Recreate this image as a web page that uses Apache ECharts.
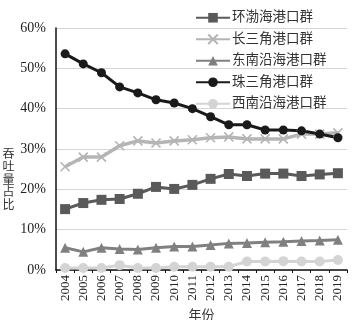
<!DOCTYPE html>
<html>
<head>
<meta charset="utf-8">
<script src="https://cdn.jsdelivr.net/npm/echarts@6/dist/echarts.min.js"></script>
<style>
  html, body { margin: 0; padding: 0; background: #fff; }
  #chart { width: 355px; height: 320px; }
</style>
</head>
<body>
<div id="chart"></div>
<script>
// 年份
var years = ['2004','2005','2006','2007','2008','2009','2010','2011','2012','2013','2014','2015','2016','2017','2018','2019'];
// 各港口群吞吐量占比(%)
var huanbohai = [15.1,16.6,17.4,17.6,18.9,20.6,20.1,21.1,22.6,23.8,23.3,23.9,23.9,23.3,23.7,24.0];
var changsanjiao = [25.6,28.0,28.0,30.8,32.0,31.5,32.0,32.3,32.8,33.0,32.5,32.5,32.5,33.7,33.7,34.0];
var dongnan = [5.5,4.5,5.5,5.2,5.1,5.5,5.8,5.8,6.2,6.6,6.7,6.9,7.0,7.2,7.3,7.5];
var zhusanjiao = [53.6,51.1,48.9,45.4,43.9,42.2,41.4,40.0,38.0,36.0,36.0,34.7,34.7,34.5,33.7,32.8];
var xinan = [0.5,0.5,0.5,1.2,0.5,0.5,0.8,0.8,0.8,0.8,2.1,2.1,2.2,2.1,2.1,2.5];
var seriesNames = ['环渤海港口群','长三角港口群','东南沿海港口群','珠三角港口群','西南沿海港口群'];

var serif = '"Liberation Serif", "Noto Sans CJK SC", serif';
var chart = echarts.init(document.getElementById('chart'));

function line(name, data, color, symbol, size, width) {
  return {
    name: name,
    type: 'line',
    data: data,
    symbol: symbol,
    symbolSize: size,
    showSymbol: true,
    lineStyle: { color: color, width: width },
    itemStyle: { color: color, borderColor: color, borderWidth: symbol.indexOf('path') === 0 ? 1.6 : 0 },
    z: 3
  };
}

var option = {
  animation: false,
  textStyle: { fontFamily: serif },
  grid: { left: 56, right: 8, top: 28, bottom: 50, containLabel: false, outerBoundsMode: 'none' },
  legend: {
    orient: 'vertical',
    left: 190,
    top: 6,
    itemWidth: 34,
    itemHeight: 12,
    itemGap: 8,
    textStyle: { fontSize: 13.5, color: '#333', fontFamily: serif, padding: [0, 0, 0, -3] },
    data: seriesNames
  },
  xAxis: {
    type: 'category',
    data: years,
    boundaryGap: true,
    name: '年份',
    nameLocation: 'middle',
    nameGap: 38,
    nameTextStyle: { fontSize: 13, color: '#333', fontFamily: serif },
    axisLine: { lineStyle: { color: '#111', width: 1.5 } },
    axisTick: { show: true, length: 3, lineStyle: { color: '#111' } },
    axisLabel: { rotate: 90, interval: 0, fontSize: 13, color: '#222', margin: 5, fontFamily: serif }
  },
  yAxis: {
    type: 'value',
    min: 0,
    max: 60,
    interval: 10,
    name: '吞\n吐\n量\n占\n比',
    nameLocation: 'middle',
    nameRotate: 0,
    nameGap: 38,
    nameTextStyle: { fontSize: 12, lineHeight: 12.6, color: '#333', fontFamily: serif, verticalAlign: 'top' },
    axisLine: { show: true, lineStyle: { color: '#111', width: 1.5 } },
    axisTick: { show: false },
    axisLabel: { formatter: '{value}%', fontSize: 14, color: '#222', margin: 10, fontFamily: serif },
    splitLine: { lineStyle: { color: '#d6d6d6', width: 1 } }
  },
  series: [
    line(seriesNames[0], huanbohai, '#5a5a5a', 'rect', 10, 3),
    line(seriesNames[1], changsanjiao, '#b5b5b5', 'path://M0,0L10,10M10,0L0,10', 9, 3.5),
    line(seriesNames[2], dongnan, '#808080', 'triangle', 10, 3),
    line(seriesNames[3], zhusanjiao, '#1a1a1a', 'circle', 9, 3),
    line(seriesNames[4], xinan, '#d4d4d4', 'circle', 10, 3)
  ]
};
chart.setOption(option);
</script>
</body>
</html>
